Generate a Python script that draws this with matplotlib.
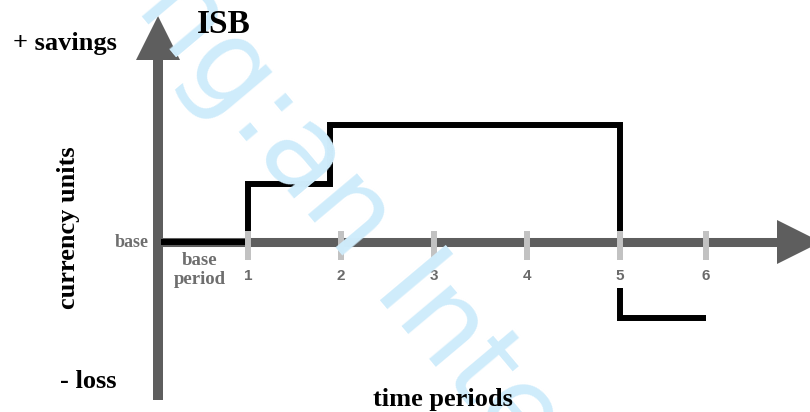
import matplotlib
matplotlib.use("Agg")
import matplotlib.pyplot as plt

# ---- data ----
periods = [1, 2, 3, 4, 5, 6]
period_pos = [1, 2, 3, 4, 5, 5.92]          # where each period tick sits on the time axis
step_x = [0.1, 1, 1.88, 5]                   # change points of the ISB line
step_vals = [0, 1, 2, 0]                     # ISB value from each change point on
loss_x = [5, 5.92]
loss_top = -0.78
loss_val = -1.3

W, H = 810, 412
fig = plt.figure(figsize=(W / 100, H / 100), dpi=100)
ax = fig.add_axes([0, 0, 1, 1])
ax.axis("off")
# pixel layout: px = 155 + 93*x ; py = 242 - 58.5*y
x0, sx = 155, 93.0
y0, sy = 242, 58.5
ax.set_xlim((0 - x0) / sx, (W - x0) / sx)
ax.set_ylim((y0 - H) / sy, y0 / sy)

def fx(px):
    return px / W

def fy(py):
    return 1 - py / H

AX = "#5e5e5e"
serif = ["Liberation Serif", "DejaVu Serif"]
sans = ["Liberation Sans", "DejaVu Sans"]

# watermark
fig.text(fx(350), fy(215), "ng:an Inte", color="#cfecfb", fontsize=84,
         family=["DejaVu Sans"], fontweight="normal", rotation=-50,
         ha="center", va="center", rotation_mode="anchor", zorder=0)

# axes (arrows)
ax_x = 0.03
ax.plot([ax_x, ax_x], [-2.70, 3.15], color=AX, lw=7.2, solid_capstyle="butt", zorder=2)
ax.plot([ax_x], [3.479], marker="^", ms=31.5, color=AX, mec=AX, mew=0, zorder=2)
ax.plot([ax_x - 0.03, 6.70], [0, 0], color=AX, lw=6.5, solid_capstyle="butt", zorder=2)
ax.plot([6.93], [0], marker=">", ms=31, color=AX, mec=AX, mew=0, zorder=2)

# ISB series
ax.step(step_x + [5], step_vals + [0.15], where="post", color="black", lw=4.3,
        solid_joinstyle="miter", zorder=3)
ax.plot([loss_x[0], loss_x[0], loss_x[1]], [loss_top, loss_val, loss_val],
        color="black", lw=4.3, solid_joinstyle="miter", solid_capstyle="butt", zorder=3)

# period ticks
ax.vlines(period_pos, -0.31, 0.19, color="#c2c2c2", lw=4.3, zorder=4)
for p, lab in zip(period_pos, periods):
    ax.text(p, -0.58, str(lab), ha="center", va="center", fontsize=11,
            family=sans, fontweight="bold", color="#6a6a6a", zorder=5)

# labels
fig.text(fx(117), fy(50), "+ savings", ha="right", va="baseline", fontsize=19,
         family=serif, fontweight="bold", color="black")
fig.text(fx(117), fy(388), "- loss", ha="right", va="baseline", fontsize=19,
         family=serif, fontweight="bold", color="black")
fig.text(fx(224), fy(33), "ISB", ha="center", va="baseline", fontsize=24,
         family=serif, fontweight="bold", color="black")
fig.text(fx(443), fy(406), "time periods", ha="center", va="baseline", fontsize=19,
         family=serif, fontweight="bold", color="black")
fig.text(fx(68), fy(228), "currency units", ha="center", va="center", rotation=90,
         fontsize=19, family=serif, fontweight="bold", color="black")
fig.text(fx(149), fy(243), "base", ha="right", va="center", fontsize=13,
         family=serif, fontweight="bold", color="#6e6e6e")
fig.text(fx(200), fy(270), "base\nperiod", ha="center", va="center", fontsize=13.5,
         family=serif, fontweight="bold", color="#6e6e6e", linespacing=1.15)

fig.savefig("out.png", dpi=100, facecolor="white")
